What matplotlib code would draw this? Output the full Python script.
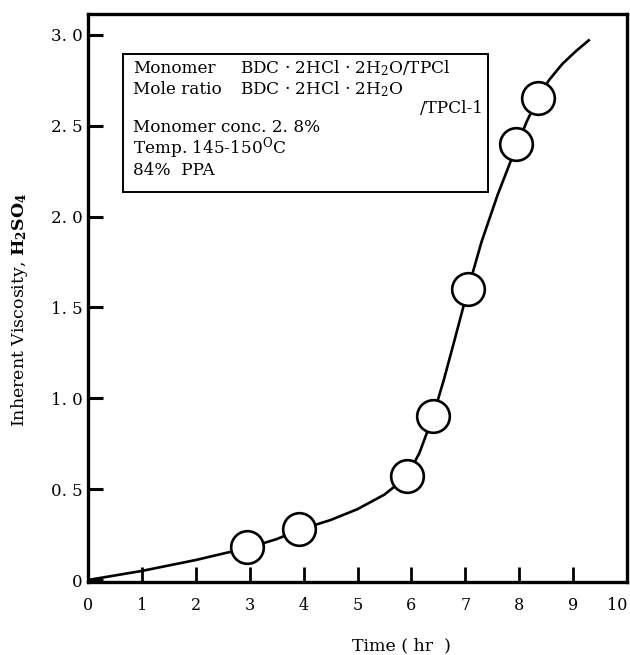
import matplotlib
matplotlib.use("Agg")
import matplotlib.pyplot as plt
from matplotlib.patches import Rectangle

# measured points (time in hr, inherent viscosity)
time_hr = [2.95, 3.91, 5.92, 6.40, 7.05, 7.94, 8.35]
viscosity = [0.18, 0.28, 0.57, 0.90, 1.60, 2.40, 2.65]

# drawn trend curve
curve_t = [0.0, 0.5, 1.0, 1.5, 2.0, 2.5, 2.95, 3.5, 3.91, 4.5, 5.0, 5.5,
           5.92, 6.15, 6.40, 6.6, 6.8, 7.05, 7.3, 7.6, 7.94, 8.15, 8.35,
           8.55, 8.8, 9.05, 9.29]
curve_v = [0.0, 0.025, 0.05, 0.08, 0.11, 0.145, 0.175, 0.225, 0.275, 0.33,
           0.39, 0.47, 0.57, 0.70, 0.90, 1.10, 1.32, 1.60, 1.86, 2.12, 2.38,
           2.53, 2.65, 2.75, 2.84, 2.91, 2.97]

x_ticks = list(range(0, 11))
y_ticks = [0, 0.5, 1.0, 1.5, 2.0, 2.5, 3.0]
y_tick_labels = ["0", "0. 5", "1. 0", "1. 5", "2. 0", "2. 5", "3. 0"]

plt.rcParams['font.family'] = ['DejaVu Serif']
plt.rcParams['mathtext.fontset'] = 'dejavuserif'

fig = plt.figure(figsize=(6.3, 6.55), dpi=100)
ax = fig.add_axes([88 / 630, 1 - 582 / 655, 539 / 630, 568 / 655])

ax.plot(curve_t, curve_v, color='black', linewidth=1.9, zorder=2)
ax.plot(time_hr, viscosity, linestyle='none', marker='o', markersize=23.5,
        markerfacecolor='white', markeredgecolor='black', markeredgewidth=1.9,
        zorder=3, clip_on=False)

ax.set_xlim(0, 10)
ax.set_ylim(-0.011, 3.115)
ax.set_xticks(x_ticks)
ax.set_xticklabels([str(t) for t in x_ticks])
ax.get_xticklabels()[-1].set_horizontalalignment('right')
ax.set_yticks(y_ticks)
ax.set_yticklabels(y_tick_labels)

for s in ax.spines.values():
    s.set_linewidth(2.4)
ax.tick_params(axis='x', direction='in', length=11, width=2.0, pad=11, labelsize=11.5)
ax.tick_params(axis='y', direction='in', length=11, width=2.2, pad=4, labelsize=12)

ax.set_xlabel('Time ( hr  )', fontsize=12.5)
ax.xaxis.set_label_coords(0.582, -0.098)
ax.set_ylabel('Inherent Viscosity, $\\mathbf{H_2SO_4}$', fontsize=12.5)
ax.yaxis.set_label_coords(-0.108, 0.48)

# info box
ax.add_patch(Rectangle((0.065, 0.687), 0.677, 0.243, transform=ax.transAxes,
                       fill=False, edgecolor='black', linewidth=1.4, zorder=4))
fs = 12.2
x0 = 0.0835
xb = 0.282
kw = dict(transform=ax.transAxes, fontsize=fs, va='baseline')
ax.text(x0, 0.896, 'Monomer', **kw)
ax.text(xb, 0.896, 'BDC · 2HCl · 2H$_2$O/TPCl', **kw)
ax.text(x0, 0.859, 'Mole ratio', **kw)
ax.text(xb, 0.859, 'BDC · 2HCl · 2H$_2$O', **kw)
ax.text(0.733, 0.826, '/TPCl-1', ha='right', **kw)
ax.text(x0, 0.793, 'Monomer conc. 2. 8%', **kw)
ax.text(x0, 0.754, 'Temp. 145-150$^{\\mathrm{O}}$C', **kw)
ax.text(x0, 0.716, '84%  PPA', **kw)

fig.savefig('out.png', dpi=100)
